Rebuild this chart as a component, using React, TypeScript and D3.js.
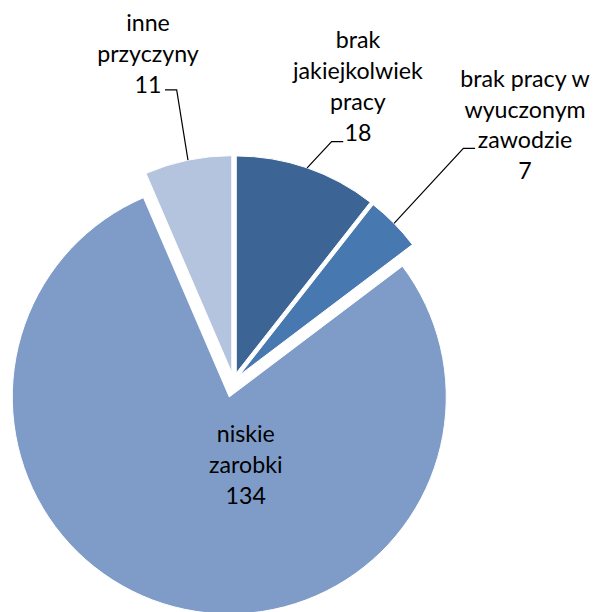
import React from 'react';
import * as d3 from 'd3';

// ---- data ----
const categories = [
  'brak jakiejkolwiek pracy',
  'brak pracy w wyuczonym zawodzie',
  'niskie zarobki',
  'inne przyczyny',
];
const values = [18, 7, 134, 11];
const labelLines = [
  ['brak', 'jakiejkolwiek', 'pracy'],
  ['brak pracy w', 'wyuczonym', 'zawodzie'],
  ['niskie', 'zarobki'],
  ['inne', 'przyczyny'],
];

// ---- styles / layout ----
const colors = ['#3C6595', '#4878B0', '#7F9CC8', '#B4C4DE'];
const WIDTH = 593;
const HEIGHT = 612;
const CENTER: [number, number] = [233.5, 381];
const RADIUS = 217;
const EXPLODE = [8.5, 8, 16.5, 8.5];
const FONT = 'Lato, "Open Sans", sans-serif';
const FONT_SIZE = 23.2;
const LINE_H = 30.8;

type LabelLayout = {
  inside: boolean;
  elbow?: [number, number];
  tail?: [number, number];
  text: [number, number];
};
const labelLayout: LabelLayout[] = [
  { inside: false, elbow: [24.5, -26.2], tail: [36.1, -26.2], text: [50.8, -119.6] },
  { inside: false, elbow: [69.3, -75], tail: [81, -75], text: [131, -136.6] },
  { inside: true, text: [16.5, 45] },
  { inside: false, elbow: [-11.3, -70.2], tail: [-23, -70.2], text: [-40, -129.2] },
];

export default function App() {
  const pie = d3
    .pie<number>()
    .value((d) => d)
    .sort(null)
    .startAngle(0)
    .endAngle(2 * Math.PI);
  const arcs = pie(values);
  const arcGen = d3.arc<d3.PieArcDatum<number>>().innerRadius(0).outerRadius(RADIUS);
  const edgeGen = d3.arc<d3.PieArcDatum<number>>().innerRadius(RADIUS).outerRadius(RADIUS);

  return (
    <svg
      width={WIDTH}
      height={HEIGHT}
      style={{ position: 'absolute', left: 0, top: 0, display: 'block', background: '#fff' }}
    >
      <g transform={`translate(${CENTER[0]},${CENTER[1]})`}>
        {arcs.map((a, i) => {
          const mid = (a.startAngle + a.endAngle) / 2;
          const ox = Math.sin(mid) * EXPLODE[i];
          const oy = -Math.cos(mid) * EXPLODE[i];
          return (
            <g key={categories[i]} transform={`translate(${ox},${oy})`}>
              <path d={arcGen(a) || ''} fill={colors[i]} stroke="#fff" strokeWidth={1} />
            </g>
          );
        })}
        {arcs.map((a, i) => {
          const mid = (a.startAngle + a.endAngle) / 2;
          const ox = Math.sin(mid) * EXPLODE[i];
          const oy = -Math.cos(mid) * EXPLODE[i];
          const lay = labelLayout[i];
          const lines = [...labelLines[i], String(values[i])];
          let bx = ox;
          let by = oy;
          let leader: React.ReactNode = null;
          if (!lay.inside) {
            const [ex, ey] = edgeGen.centroid(a);
            bx = ex + ox;
            by = ey + oy;
            const pts = [
              [bx, by],
              [bx + lay.elbow![0], by + lay.elbow![1]],
              [bx + lay.tail![0], by + lay.tail![1]],
            ];
            leader = (
              <polyline
                points={pts.map((p) => p.join(',')).join(' ')}
                fill="none"
                stroke="#000"
                strokeWidth={1.2}
              />
            );
          }
          return (
            <g key={'lab' + i}>
              {leader}
              <text
                x={bx + lay.text[0]}
                y={by + lay.text[1]}
                textAnchor="middle"
                fontFamily={FONT}
                fontSize={FONT_SIZE}
                fill="#000"
              >
                {lines.map((t, k) => (
                  <tspan key={k} x={bx + lay.text[0]} y={by + lay.text[1] + k * LINE_H}>
                    {t}
                  </tspan>
                ))}
              </text>
            </g>
          );
        })}
      </g>
    </svg>
  );
}
